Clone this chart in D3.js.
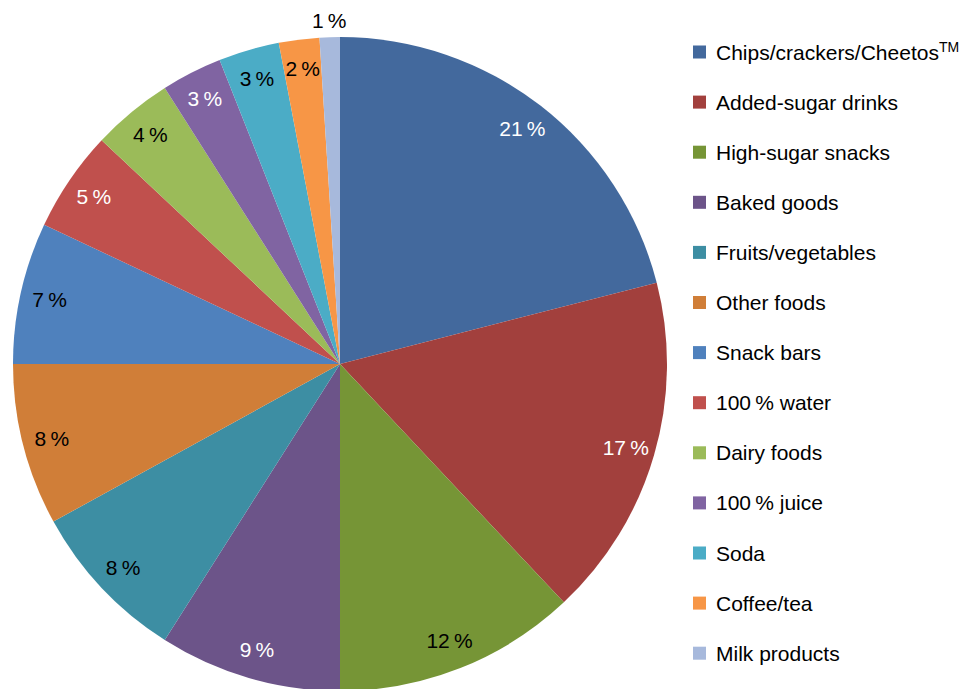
<!DOCTYPE html>
<html>
<head>
<meta charset="utf-8">
<script src="https://cdn.jsdelivr.net/npm/d3@7"></script>
<style>
  body { margin: 0; background: #fff; }
  svg { display: block; font-family: "Liberation Sans", Arial, sans-serif; }
</style>
</head>
<body>
<div id="chart"></div>
<script>
const categories = ["Chips/crackers/Cheetos", "Added-sugar drinks", "High-sugar snacks", "Baked goods",
    "Fruits/vegetables", "Other foods", "Snack bars", "100\u2009% water", "Dairy foods",
    "100\u2009% juice", "Soda", "Coffee/tea", "Milk products"];
const shares = [21, 17, 12, 9, 8, 8, 7, 5, 4, 3, 3, 2, 1];
const colors = ["#43699d", "#a2403d", "#769536", "#6c5489", "#3d8ea3", "#d07e38", "#4f81bd",
    "#c0504d", "#9bbb59", "#8064a2", "#4bacc6", "#f79646", "#a7b9dc"];
const labelColors = ["#fff", "#fff", "#000", "#fff", "#000", "#000", "#000",
    "#fff", "#000", "#fff", "#000", "#000", "#000"];

const width = 965, height = 689;
const cx = 340, cy = 364, radius = 327;

const svg = d3.select("#chart").append("svg")
    .attr("width", width)
    .attr("height", height);

const pie = d3.pie().sort(null).value(d => d);
const arcs = pie(shares);

const arc = d3.arc().innerRadius(0).outerRadius(radius);
const labelArc = d3.arc().innerRadius(radius * 0.91).outerRadius(radius * 0.91);
const outerLabelArc = d3.arc().innerRadius(radius * 1.05).outerRadius(radius * 1.05);

const g = svg.append("g")
    .attr("transform", `translate(${cx}, ${cy})`);

g.selectAll("path.slice")
    .data(arcs)
    .enter().append("path")
    .attr("class", "slice")
    .attr("d", arc)
    .attr("fill", (d, i) => colors[i]);

// data labels, the smallest slice gets its label outside
g.selectAll("text.lbl")
    .data(arcs)
    .enter().append("text")
    .attr("class", "lbl")
    .attr("transform", (d, i) => {
        const c = (i === arcs.length - 1 ? outerLabelArc : labelArc).centroid(d);
        return `translate(${c[0]}, ${c[1]})`;
    })
    .attr("text-anchor", "middle")
    .attr("dy", "0.36em")
    .style("font-size", "21px")
    .attr("fill", (d, i) => labelColors[i])
    .text(d => d.data + "\u2009%");

// legend
const legend = svg.append("g")
    .attr("transform", "translate(693, 52)");

const item = legend.selectAll("g.item")
    .data(categories)
    .enter().append("g")
    .attr("class", "item")
    .attr("transform", (d, i) => `translate(0, ${i * 50.1})`);

item.append("rect")
    .attr("x", 0)
    .attr("y", -6.5)
    .attr("width", 13)
    .attr("height", 13)
    .attr("fill", (d, i) => colors[i]);

const txt = item.append("text")
    .attr("x", 23)
    .attr("dy", "0.36em")
    .style("font-size", "21px")
    .attr("fill", "#000")
    .text(d => d);

txt.filter((d, i) => i === 0)
    .append("tspan")
    .attr("dy", "-0.55em")
    .style("font-size", "14px")
    .text("TM");
</script>
</body>
</html>
